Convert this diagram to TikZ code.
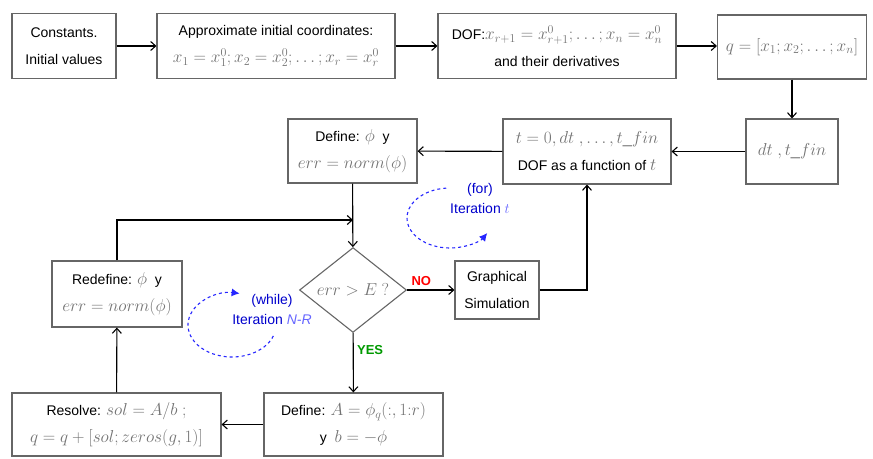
\documentclass[tikz,border=0pt]{standalone}
\usepackage{amsmath,amssymb}
\usepackage{fontspec}
\setmainfont{Liberation Sans}
\usetikzlibrary{shapes.geometric,arrows.meta}
\newcommand{\mth}[1]{{\fontsize{16.5}{27}\selectfont\textcolor{black!55}{$#1$}}}

\begin{document}
\begin{tikzpicture}[x=1pt,y=-1pt,
  box/.style={draw=black!60,line width=1.1pt,fill=white,align=center,inner sep=2pt,
              font=\fontsize{14}{27}\selectfont},
  flow/.style={line width=1.1pt,-{Straight Barb[length=5pt,width=9pt]}},
  loopline/.style={blue!85!white,dashed,line width=1.1pt,-{Latex[length=8pt,width=8pt]}},
  looptext/.style={blue!80!black,align=center,font=\fontsize{14}{20}\selectfont}]
\useasboundingbox (0,0) rectangle (873,458);

% first row
\node [box,minimum width=104pt,minimum height=65pt] (cst) at (64,46) {Constants.\\Initial values};
\node [box,minimum width=238pt,minimum height=65pt] (approx) at (276,46)
   {Approximate initial coordinates:\\\mth{x_1=x_1^0;x_2=x_2^0;\ldots;x_r=x_r^0}};
\node [box,minimum width=238pt,minimum height=65pt] (dof) at (557,46)
   {DOF:\mth{x_{r+1}=x_{r+1}^0;\ldots;x_n=x_n^0}\\and their derivatives};
\node [box,minimum width=149pt,minimum height=64pt] (qvec) at (792,47) {\mth{q=[x_1;x_2;\ldots;x_n]}};
\draw [flow] (cst) -- (approx);
\draw [flow] (approx) -- (dof);
\draw [flow] (dof.east) -- (qvec.west |- dof.east);

% time loop
\node [box,minimum width=92pt,minimum height=65pt] (dtbox) at (792,151.5) {\mth{dt\ ,t\_fin}};
\node [box,minimum width=168pt,minimum height=65pt] (tbox) at (587,151.5)
   {\mth{t=0,dt\ ,\ldots,t\_fin}\\DOF as a function of \mth{t}};
\node [box,minimum width=129pt,minimum height=64pt] (defphi) at (352.5,151)
   {Define: \mth{\phi}\ \ y\\\mth{err=norm(\phi)}};
\draw [flow] (qvec) -- (dtbox);
\draw [flow] (dtbox) -- (tbox);
\draw [flow] (tbox) -- (defphi);

% Newton-Raphson
\coordinate (join) at (353,220);
\node [diamond,draw=black!60,line width=1.1pt,fill=white,minimum width=107pt,minimum height=72pt,
       inner sep=0pt,font=\fontsize{14}{16}\selectfont] (cond) at (353,290) {\mth{err>E\ ?}};
\node [box,minimum width=84pt,minimum height=58pt] (graph) at (497,290) {Graphical\\Simulation};
\node [box,minimum width=130pt,minimum height=66pt] (redef) at (117,294)
   {Redefine: \mth{\phi}\ \ y\\\mth{err=norm(\phi)}};
\node [box,minimum width=179pt,minimum height=63pt] (defA) at (353.5,424.5)
   {Define: \mth{A=\phi_q(:,1{:}r)}\\y\ \ \mth{b=-\phi}};
\node [box,minimum width=209pt,minimum height=63pt] (resolve) at (116.5,424.5)
   {Resolve: \mth{sol=A/b\ ;}\\\mth{q=q+[sol;zeros(g,1)]}};
\draw [flow] (defphi) -- (cond);
\draw [flow] (cond) -- node [above,red,font=\bfseries\fontsize{13}{14}\selectfont,pos=0.3] {NO} (graph);
\draw [flow] (graph.east) -| (tbox.south);
\draw [flow] (cond) -- node [right,green!60!black,font=\bfseries\fontsize{13}{14}\selectfont,pos=0.28] {YES} (defA);
\draw [flow] (defA) -- (resolve);
\draw [flow] (resolve) -- (redef);
\draw [flow] (redef.north) |- (join);

% loops
\draw [loopline] (450,218) ++(265:43 and 30) arc [start angle=265,end angle=30,x radius=43,y radius=30];
\node [looptext] (fortext) at (480,198) {(for)\\Iteration \textcolor{blue!60}{$t$}};
\draw [loopline] (232,325) ++(20:44 and 32) arc [start angle=20,end angle=280,x radius=44,y radius=32];
\node [looptext] (whiletext) at (272,309) {(while)\\Iteration \textcolor{blue!60}{\itshape N-R}};
\end{tikzpicture}
\end{document}
